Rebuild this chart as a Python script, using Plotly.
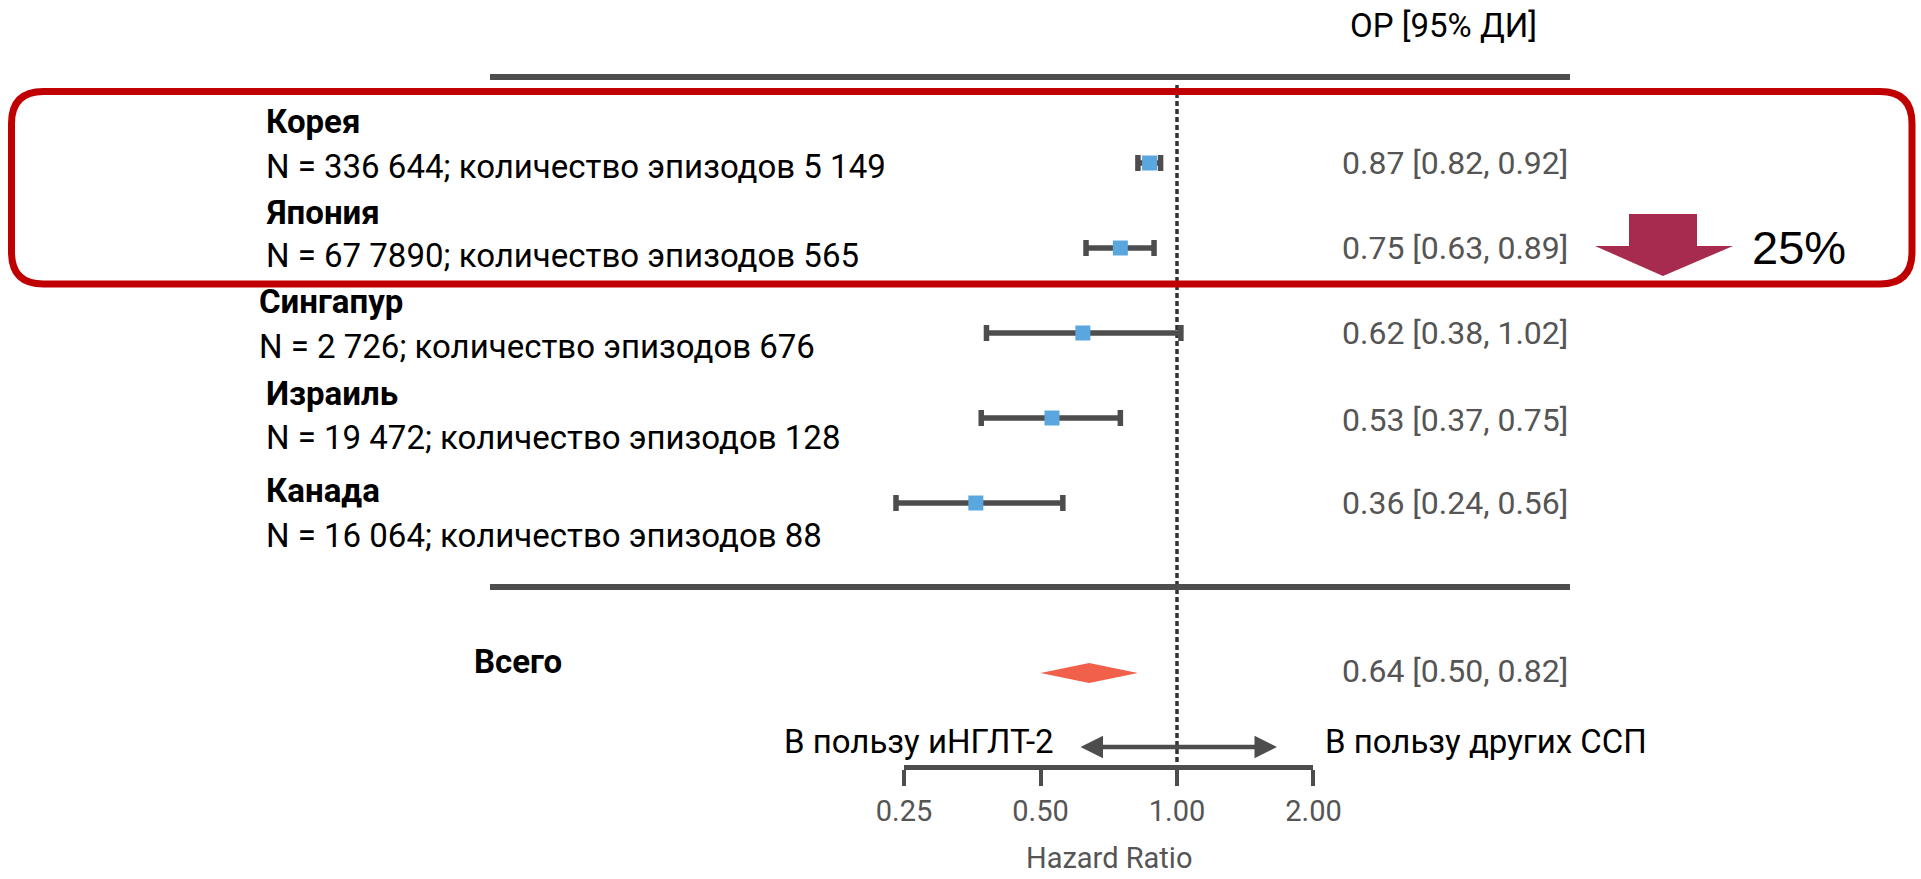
import math
import plotly.graph_objects as go

# ---------------- data ----------------
countries = ["Корея", "Япония", "Сингапур", "Израиль", "Канада"]
details = [
    "N = 336 644; количество эпизодов 5 149",
    "N = 67 7890; количество эпизодов 565",
    "N = 2 726; количество эпизодов 676",
    "N = 19 472; количество эпизодов 128",
    "N = 16 064; количество эпизодов 88",
]
hr = [0.87, 0.75, 0.62, 0.53, 0.36]
ci_low = [0.82, 0.63, 0.38, 0.37, 0.24]
ci_high = [0.92, 0.89, 1.02, 0.75, 0.56]

total_label = "Всего"
total_hr = 0.64
total_low = 0.50
total_high = 0.82

tick_vals = [0.25, 0.50, 1.00, 2.00]
tick_text = ["0.25", "0.50", "1.00", "2.00"]
axis_title = "Hazard Ratio"
reduction_text = "25%"

# ---------------- layout constants ----------------
W, H = 1921, 879
PX_ROW0 = 163.0      # pixel y of first row
PX_PER_ROW = 85.0
PX_X1 = 1177.0       # pixel x of HR = 1
PX_PER_DEC = 453.4   # pixels per log10 unit

x_r0 = -PX_X1 / PX_PER_DEC
x_r1 = (W - PX_X1) / PX_PER_DEC
y_top = -PX_ROW0 / PX_PER_ROW
y_bot = (H - PX_ROW0) / PX_PER_ROW


def row_of_px(py):
    return (py - PX_ROW0) / PX_PER_ROW


def px_x(px):
    return px / W


def px_y(py):
    return 1 - py / H


def paper_x_of_val(v):
    return (math.log10(v) - x_r0) / (x_r1 - x_r0)


def paper_y_of_row(r):
    return (y_bot - r) / (y_bot - y_top)


rows = list(range(len(countries)))
total_row = 6
sep_row = 5
top_row = -1

BLACK_FONT = "Roboto, 'Noto Sans', sans-serif"
GREY = "#555555"
LINE = "#4d4d4d"
TXT = 33
VAL = 32

fig = go.Figure()

# study estimates with CI
fig.add_trace(go.Scatter(
    x=hr, y=rows, mode="markers",
    marker=dict(symbol="square", size=15, color="#5AA6DE", line=dict(width=0)),
    error_x=dict(type="data", symmetric=False,
                 array=[h - m for h, m in zip(ci_high, hr)],
                 arrayminus=[m - l for m, l in zip(hr, ci_low)],
                 thickness=5.5, width=8, color=LINE),
    hoverinfo="skip", showlegend=False, cliponaxis=False,
))

# pooled diamond
dh = 10 / PX_PER_ROW
fig.add_trace(go.Scatter(
    x=[total_low, total_hr, total_high, total_hr, total_low],
    y=[total_row, total_row - dh, total_row, total_row + dh, total_row],
    mode="lines", fill="toself", fillcolor="#F0604B",
    line=dict(width=0, color="#F0604B"),
    hoverinfo="skip", showlegend=False,
))

# invisible trace to show the tick axis
fig.add_trace(go.Scatter(
    x=[tick_vals[0], tick_vals[-1]], y=[7, 7], xaxis="x2", yaxis="y",
    mode="markers", marker=dict(opacity=0), hoverinfo="skip", showlegend=False,
))

shapes = []
# top and separator lines
for r in (top_row, sep_row):
    shapes.append(dict(type="line", xref="paper", yref="y",
                       x0=px_x(490), x1=px_x(1570), y0=r - 0.012, y1=r - 0.012,
                       line=dict(color=LINE, width=6)))
# null line
shapes.append(dict(type="line", xref="x", yref="y", x0=1, x1=1,
                   y0=row_of_px(85), y1=row_of_px(767),
                   line=dict(color="#333333", width=3.5, dash="5px,3px"), layer="below"))

# red rounded rectangle
L, R, T, B, rad = 11.5, 1912, 91.5, 284, 32
path = (f"M {px_x(L + rad)},{px_y(T)} L {px_x(R - rad)},{px_y(T)} "
        f"Q {px_x(R)},{px_y(T)} {px_x(R)},{px_y(T + rad)} "
        f"L {px_x(R)},{px_y(B - rad)} Q {px_x(R)},{px_y(B)} {px_x(R - rad)},{px_y(B)} "
        f"L {px_x(L + rad)},{px_y(B)} Q {px_x(L)},{px_y(B)} {px_x(L)},{px_y(B - rad)} "
        f"L {px_x(L)},{px_y(T + rad)} Q {px_x(L)},{px_y(T)} {px_x(L + rad)},{px_y(T)} Z")
shapes.append(dict(type="path", xref="paper", yref="paper", path=path,
                   line=dict(color="#C00000", width=7)))

# down arrow
pts = [(1629, 214), (1697, 214), (1697, 246), (1733, 246), (1663, 276),
       (1595, 246), (1629, 246)]
apath = "M " + " L ".join(f"{px_x(a)},{px_y(b)}" for a, b in pts) + " Z"
shapes.append(dict(type="path", xref="paper", yref="paper", path=apath,
                   fillcolor="#A62B4F", line=dict(width=0)))

annotations = []
# header
annotations.append(dict(x=px_x(1443), y=row_of_px(25), xref="paper", yref="y",
                        text="ОР [95% ДИ]", showarrow=False,
                        font=dict(family=BLACK_FONT, size=TXT, color="#000000"),
                        xanchor="center", yanchor="middle"))

name_x = [264, 264, 257, 264, 264]
name_y = [121, 212, 301, 393, 490]
det_y = [166, 255, 346, 437, 535]
val_y = [163, 248, 333, 420, 503]
for i in rows:
    annotations.append(dict(x=px_x(name_x[i]), y=row_of_px(name_y[i]), xref="paper", yref="y",
                            text=f"<b>{countries[i]}</b>", showarrow=False,
                            font=dict(family=BLACK_FONT, size=TXT, color="#000000"),
                            xanchor="left", yanchor="middle"))
    annotations.append(dict(x=px_x(name_x[i]), y=row_of_px(det_y[i]), xref="paper", yref="y",
                            text=details[i], showarrow=False,
                            font=dict(family=BLACK_FONT, size=TXT, color="#000000"),
                            xanchor="left", yanchor="middle"))
    annotations.append(dict(x=px_x(1570), y=row_of_px(val_y[i]), xref="paper", yref="y",
                            text=f"{hr[i]:.2f} [{ci_low[i]:.2f}, {ci_high[i]:.2f}]",
                            showarrow=False,
                            font=dict(family=BLACK_FONT, size=VAL, color=GREY),
                            xanchor="right", yanchor="middle"))

annotations.append(dict(x=px_x(472), y=row_of_px(661), xref="paper", yref="y",
                        text=f"<b>{total_label}</b>", showarrow=False,
                        font=dict(family=BLACK_FONT, size=TXT, color="#000000"),
                        xanchor="left", yanchor="middle"))
annotations.append(dict(x=px_x(1570), y=row_of_px(671), xref="paper", yref="y",
                        text=f"{total_hr:.2f} [{total_low:.2f}, {total_high:.2f}]",
                        showarrow=False,
                        font=dict(family=BLACK_FONT, size=VAL, color=GREY),
                        xanchor="right", yanchor="middle"))

# favour labels and double arrow
annotations.append(dict(x=px_x(1056), y=row_of_px(741), xref="paper", yref="y",
                        text="В пользу иНГЛТ-2", showarrow=False,
                        font=dict(family=BLACK_FONT, size=TXT, color="#000000"),
                        xanchor="right", yanchor="middle"))
annotations.append(dict(x=px_x(1323), y=row_of_px(741), xref="paper", yref="y",
                        text="В пользу других ССП", showarrow=False,
                        font=dict(family=BLACK_FONT, size=TXT, color="#000000"),
                        xanchor="left", yanchor="middle"))
ar_y = row_of_px(747)
annotations.append(dict(x=px_x(1277), y=ar_y, ax=px_x(1079), ay=ar_y,
                        xref="x domain", yref="y", axref="x domain", ayref="y",
                        text="", showarrow=True, arrowhead=2, startarrowhead=2,
                        arrowside="end+start", arrowsize=1, arrowwidth=4.5,
                        arrowcolor=LINE))

# axis title
annotations.append(dict(x=(paper_x_of_val(tick_vals[0]) + paper_x_of_val(tick_vals[-1])) / 2,
                        y=row_of_px(858), xref="paper", yref="y",
                        text=axis_title, showarrow=False,
                        font=dict(family=BLACK_FONT, size=29, color=GREY),
                        xanchor="center", yanchor="middle"))

# 25%
annotations.append(dict(x=px_x(1750), y=row_of_px(247), xref="paper", yref="y",
                        text=reduction_text, showarrow=False,
                        font=dict(family="'Liberation Sans', Arial, sans-serif", size=47,
                                  color="#000000"),
                        xanchor="left", yanchor="middle"))

fig.update_layout(
    width=W, height=H, autosize=False,
    margin=dict(l=0, r=0, t=0, b=0, pad=0, autoexpand=False),
    paper_bgcolor="white", plot_bgcolor="rgba(0,0,0,0)",
    showlegend=False,
    xaxis=dict(type="log", range=[x_r0, x_r1], domain=[0, 1],
               visible=False, fixedrange=True, automargin=False),
    xaxis2=dict(type="log", range=[math.log10(tick_vals[0]), math.log10(tick_vals[-1])],
                domain=[paper_x_of_val(tick_vals[0]), paper_x_of_val(tick_vals[-1])],
                anchor="free", position=paper_y_of_row(row_of_px(767)),
                side="bottom", showline=True, linecolor=LINE, linewidth=5,
                ticks="outside", ticklen=16, tickwidth=4, tickcolor=LINE,
                tickvals=tick_vals, ticktext=tick_text, showgrid=False, zeroline=False,
                tickfont=dict(family=BLACK_FONT, size=29, color=GREY),
                automargin=False, fixedrange=True),
    yaxis=dict(range=[y_bot, y_top], domain=[0, 1], visible=False, fixedrange=True,
               automargin=False),
    shapes=shapes,
    annotations=annotations,
)

fig.write_html("out.html")
